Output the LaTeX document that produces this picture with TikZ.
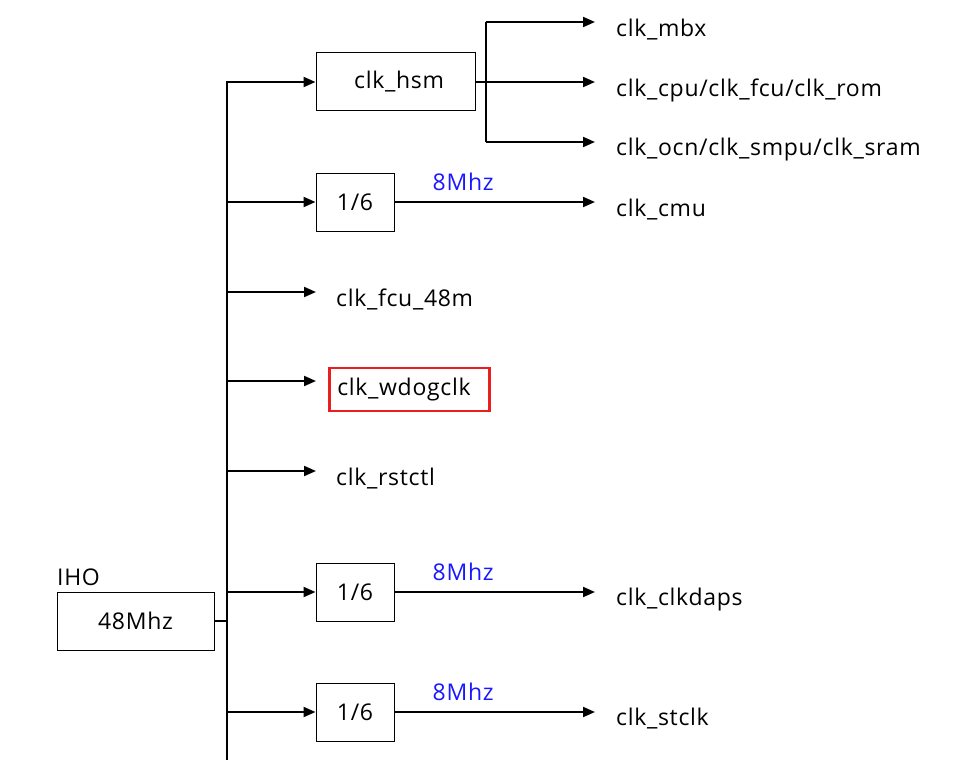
\documentclass[tikz,border=0pt]{standalone}
\usepackage{fontspec}
\setmainfont{Open Sans}[LetterSpace=3]
\usetikzlibrary{arrows.meta,positioning}
\definecolor{freqblue}{RGB}{25,25,255}
\definecolor{markred}{RGB}{235,30,30}

\begin{document}
\begin{tikzpicture}[x=1pt,y=-1pt,
    font=\fontsize{23}{27}\selectfont,
    blk/.style={draw,line width=1pt,minimum height=58pt,inner sep=0pt},
    sig/.style={line width=2pt,-{Triangle[length=12pt,width=10pt]}},
    wire/.style={line width=2pt},
    lbl/.style={anchor=west,inner sep=0pt},
    freq/.style={text=freqblue,inner sep=0pt}]
  \useasboundingbox (0,0) rectangle (970,760);

  \node (Iho) at (135.5,621) [blk,minimum width=157pt] {48Mhz};
  \node (IhoL) at (57,585) [anchor=base west,inner sep=0pt] {IHO};
  \node (Hsm) at (395.5,82) [blk,inner xsep=31pt,text width=97pt,align=right] {clk\_hsm};
  \node (Div1) at (355,202) [blk,minimum width=78pt] {1/6};
  \node (Div2) at (355,592) [blk,minimum width=78pt] {1/6};
  \node (Div3) at (355,712) [blk,minimum width=78pt] {1/6};
  \node (Wdog) at (328,389.5) [anchor=west,draw=markred,line width=2.5pt,
      text width=144pt,inner xsep=8pt,minimum height=43pt,align=left] {clk\_wdogclk};

  \node (Mbx) at (616,30) [lbl] {clk\_mbx};
  \node (Cpu) at (616,90) [lbl] {clk\_cpu/clk\_fcu/clk\_rom};
  \node (Ocn) at (616,150) [lbl] {clk\_ocn/clk\_smpu/clk\_sram};
  \node (Cmu) at (616,210) [lbl] {clk\_cmu};
  \node (Fcu) at (336,299) [lbl] {clk\_fcu\_48m};
  \node (Rst) at (336,479) [lbl] {clk\_rstctl};
  \node (Daps) at (616,600) [lbl] {clk\_clkdaps};
  \node (Stc) at (616,719) [lbl] {clk\_stclk};

  % bus
  \coordinate (Bot) at (227,760);
  \foreach \n/\y in {B2/202,B3/292,B4/381,B5/471,B6/592,B7/712}
    \coordinate (\n) at (227,\y);
  \draw[sig] (Bot) |- (Hsm.west);
  \draw[wire] (Iho.east) -- (Iho.east -| Bot);
  \draw[sig] (B2) -- (Div1.west);
  \draw[sig,shorten >=20pt] (B3) -- (B3 -| Fcu.west);
  \draw[sig,shorten >=12pt] (B4) -- (B4 -| Wdog.west);
  \draw[sig,shorten >=20pt] (B5) -- (B5 -| Rst.west);
  \draw[sig] (B6) -- (Div2.west);
  \draw[sig] (B7) -- (Div3.west);

  % hsm fan-out
  \coordinate (F1) at (486,22);
  \coordinate (F2) at (486,82);
  \coordinate (F3) at (486,142);
  \draw[wire] (Hsm.east) -- (F2);
  \draw[wire] (F1) -- (F3);
  \draw[sig,shorten >=21pt] (F1) -- (F1 -| Mbx.west);
  \draw[sig,shorten >=21pt] (F2) -- (F2 -| Cpu.west);
  \draw[sig,shorten >=21pt] (F3) -- (F3 -| Ocn.west);

  % divided clocks
  \draw[sig,shorten >=21pt] (Div1.east) -- (Div1.east -| Cmu.west)
    node[freq,pos=0.31,above=10pt] {8Mhz};
  \draw[sig,shorten >=21pt] (Div2.east) -- (Div2.east -| Daps.west)
    node[freq,pos=0.31,above=10pt] {8Mhz};
  \draw[sig,shorten >=21pt] (Div3.east) -- (Div3.east -| Stc.west)
    node[freq,pos=0.31,above=10pt] {8Mhz};
\end{tikzpicture}
\end{document}
